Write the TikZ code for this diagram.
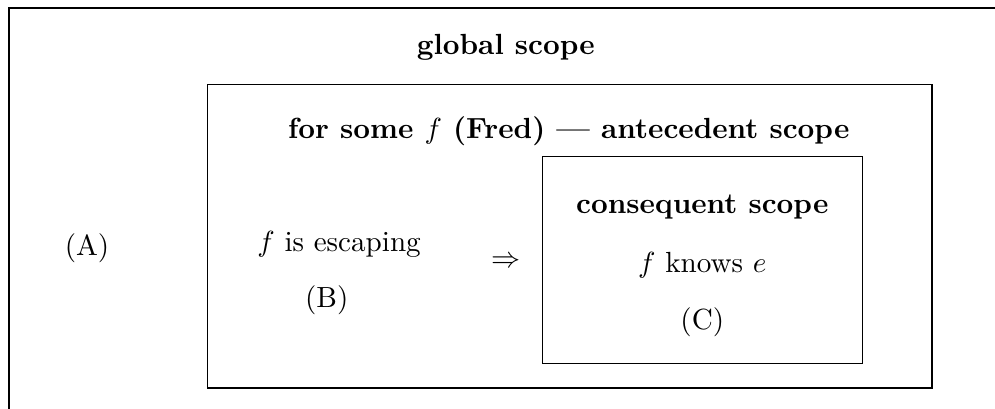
\documentclass[tikz,border=0pt]{standalone}
\begin{document}
\begin{tikzpicture}[label/.style={font=\bfseries}]

\useasboundingbox (0,0) rectangle (12,4.93);
\clip (0,0) rectangle (12,4.93);

% outer frame (A), runs off the page
\draw[semithick] (0.11,-1) rectangle (13,4.83);
\node (A) at (1.05,1.94) {(A)};
\node[label] (global) at (6.10,4.36) {global scope};

% antecedent scope (B)
\draw (2.50,0.25) rectangle (11.24,3.91);
\node[label] (ante) at (6.86,3.35) {for some $f$ (Fred) --- antecedent scope};
\node (esc) at (4.09,1.98) {$f$ is escaping};
\node (B) at (3.94,1.31) {(B)};
\node (impl) at (6.10,1.77) {$\Rightarrow$};

% consequent scope (C)
\draw (6.54,0.55) rectangle (10.40,3.04);
\node[label] (cons) at (8.47,2.43) {consequent scope};
\node (knows) at (8.47,1.73) {$f$ knows $e$};
\node (C) at (8.47,1.04) {(C)};
\end{tikzpicture}
\end{document}
